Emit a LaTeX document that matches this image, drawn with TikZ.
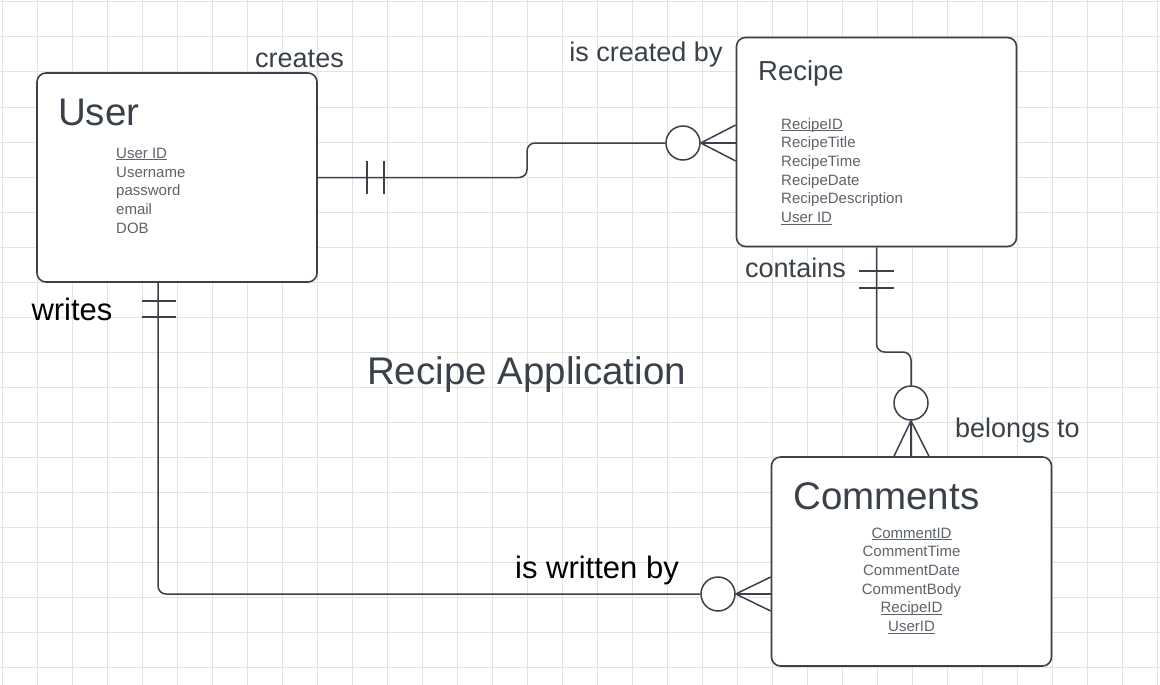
\documentclass[tikz,border=0pt]{standalone}
\usepackage{fontspec}
\setmainfont{Liberation Sans}
\usetikzlibrary{calc}
\definecolor{ink}{HTML}{3A414A}
\definecolor{attrgray}{HTML}{5C636B}
\definecolor{gridgray}{HTML}{E3E3E3}
\newlength\pkwd
\newcommand\pkey[1]{\settowidth{\pkwd}{#1}#1\llap{\rule[-1.8pt]{\pkwd}{0.8pt}}}

\begin{document}
\begin{tikzpicture}[x=1pt, y=-1pt,
	entity/.style={draw=ink, line width=1.6pt, fill=white, rounded corners=9pt,
		minimum width=280pt, minimum height=209pt, inner sep=0pt},
	ent title/.style={text=ink, inner sep=0pt, anchor=base west},
	attr/.style={font=\fontsize{15}{18}\selectfont, text=attrgray, inner sep=0pt},
	rel/.style={draw=ink, line width=1.5pt},
	zero/.style={circle, draw=ink, line width=1.5pt, fill=white, minimum size=34pt, inner sep=0pt},
	verb/.style={font=\fontsize{27}{32}\selectfont, text=ink, inner sep=0pt, anchor=base},
	verb dark/.style={font=\fontsize{31}{36}\selectfont, text=black, inner sep=0pt, anchor=base}]
	% background grid
	\fill[white] (0,0) rectangle (1160,685);
	\useasboundingbox (0,0) rectangle (1160,685);
	\foreach \gx in {0,...,33}
		\draw[gridgray, line width=1pt] ({2+35*\gx},0) -- ({2+35*\gx},685);
	\foreach \gy in {0,...,19}
		\draw[gridgray, line width=1pt] (0,{2+35*\gy}) -- (1160,{2+35*\gy});

	% entities
	\node[entity] (user) at (177,177.5) {};
	\node[entity] (recipe) at (876.5,142) {};
	\node[entity] (comments) at (911.5,561.5) {};

	\node[ent title, font=\fontsize{38.5}{44}\selectfont] (user-t) at (58,125) {User};
	\node[ent title, font=\fontsize{27.5}{32}\selectfont] (recipe-t) at (758,81) {Recipe};
	\node[ent title, font=\fontsize{38.5}{44}\selectfont] (comments-t) at (793,509) {Comments};

	\foreach \a [count=\i] in {\pkey{User ID}, Username, password, email, DOB}
		\node[attr, anchor=base west] (user-a\i) at (116,{158.3+18.7*(\i-1)}) {\a};
	\foreach \a [count=\i] in {\pkey{RecipeID}, RecipeTitle, RecipeTime, RecipeDate,
			RecipeDescription, \pkey{User ID}}
		\node[attr, anchor=base west] (recipe-a\i) at (781,{129+18.7*(\i-1)}) {\a};
	\foreach \a [count=\i] in {\pkey{CommentID}, CommentTime, CommentDate, CommentBody,
			\pkey{RecipeID}, \pkey{UserID}}
		\node[attr, anchor=base] (comments-a\i) at (911.5,{538+18.7*(\i-1)}) {\a};

	% user -- recipe
	\node[zero] (c1) at (683,143) {};
	\coordinate (s1) at (527,160);
	\draw[rel, rounded corners=8pt] (user.east) -| (s1) |- (c1.west);
	\foreach \d in {-18,0,18}
		\draw[rel] (c1.east) -- ($(c1.east -| recipe.west)+(0,\d)$);
	\foreach \bx in {367,384}
		\draw[rel] (\bx,161) -- (\bx,194);

	% recipe -- comments
	\node[zero] (c3) at (911,403) {};
	\coordinate (s3) at (911,352);
	\draw[rel, rounded corners=8pt] (recipe.south) |- (s3) -- (c3.north);
	\foreach \d in {-17,0,18}
		\draw[rel] (c3.south) -- ($(c3.south |- comments.north)+(\d,0)$);
	\foreach \by in {271,288}
		\draw[rel] (859,\by) -- (894,\by);

	% user -- comments
	\node[zero] (c2) at (718,594) {};
	\coordinate (u-foot) at ($(user.south)+(-19,0)$);
	\draw[rel, rounded corners=8pt] (u-foot) |- (c2.west);
	\foreach \d in {-17,0,17}
		\draw[rel] (c2.east) -- ($(c2.east -| comments.west)+(0,\d)$);
	\foreach \by in {301,317}
		\draw[rel] (142,\by) -- (176,\by);

	% relationship labels
	\node[verb] (l-creates) at (299.5,68) {creates};
	\node[verb] (l-createdby) at (646,62) {is created by};
	\node[verb] (l-contains) at (795.5,277) {contains};
	\node[verb] (l-belongs) at (1017.5,437) {belongs to};
	\node[verb dark] (l-writes) at (72,320) {writes};
	\node[verb dark] (l-writtenby) at (597,578) {is written by};
	\node[verb, font=\fontsize{38.5}{44}\selectfont] (diagram-t) at (526.5,384) {Recipe Application};
\end{tikzpicture}
\end{document}
